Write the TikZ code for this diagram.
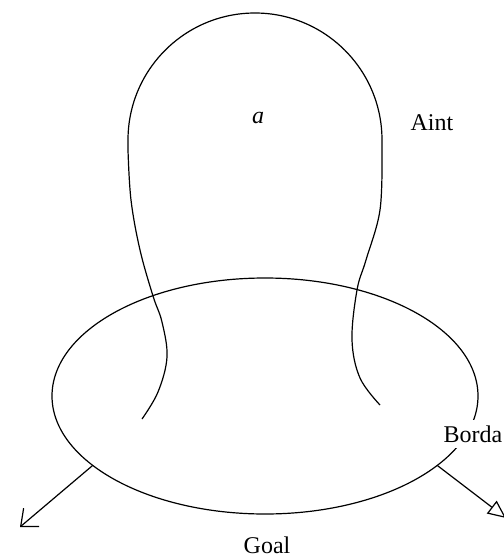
\documentclass[tikz,border=0pt]{standalone}
\usepackage{fontspec}
\setmainfont{Liberation Serif}
\usetikzlibrary{arrows.meta,shapes.geometric}
\begin{document}
\begin{tikzpicture}[x=0.5pt,y=-0.5pt,line width=0.6pt,
  lbl/.style={font=\fontsize{12}{14}\selectfont,inner sep=1pt},
  barb/.style={-{Straight Barb[length=7pt,width=12pt]}},
  tri/.style={-{Triangle[open,length=9pt,width=8pt]}}]
\useasboundingbox (0,0) rectangle (504,558);
% ellipse (Goal region)
\node[ellipse,draw,minimum width=213pt,minimum height=118pt,inner sep=0pt] (ell) at (265,396) {};
% balloon curve
\draw plot[smooth,tension=0.6] coordinates {(142,419) (158,392) (167,357) (162,322) (153,296) (140,250) (131,200) (128,150)}
  -- (128,140) arc[start angle=180,end angle=0,x radius=127,y radius=-127]
  -- (382,150)
  plot[smooth,tension=0.6] coordinates {(382,150) (380,210) (366,260) (357,290) (352,340) (360,378) (380,405)};
% labels
\node[lbl,font=\fontsize{12}{14}\selectfont\itshape] (a) at (258,118) {a};
\node[lbl] (aint) at (432,123) {Aint};
\node[lbl] (goal) at (267,545) {Goal};
\node[lbl,fill=white,anchor=west,inner sep=3pt] (borda) at (437,434) {Borda};
% arrows
\coordinate (lt) at (20,527);
\coordinate (rt) at (506,518);
\draw[barb] (ell.202) -- (lt);
\draw[tri] (ell.338) -- (rt);
\end{tikzpicture}
\end{document}
